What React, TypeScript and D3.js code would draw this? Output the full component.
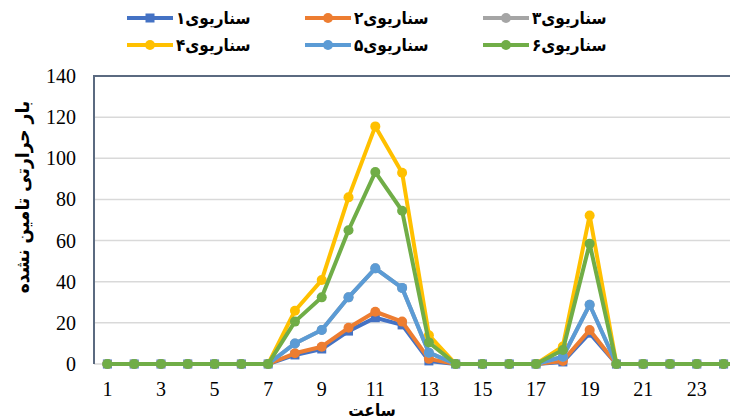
import { useEffect, useRef } from 'react';
import * as d3 from 'd3';

// hours (25th is off the cropped right edge)
const hours = d3.range(1, 26);
const tickHours = [1, 3, 5, 7, 9, 11, 13, 15, 17, 19, 21, 23];
const yTicks = [0, 20, 40, 60, 80, 100, 120, 140];

const names = ['سناریوی۱', 'سناریوی۲', 'سناریوی۳', 'سناریوی۴', 'سناریوی۵', 'سناریوی۶'];
const colors = ['#4472C4', '#ED7D31', '#A5A5A5', '#FFC000', '#5B9BD5', '#70AD47'];

const s1 = [0, 0, 0, 0, 0, 0, 0, 4.4, 7.3, 16, 22.5, 19, 1.5, 0, 0, 0, 0, 1, 15, 0, 0, 0, 0, 0, 0];
const s2 = [0, 0, 0, 0, 0, 0, 0, 5.2, 8.4, 17.6, 25.4, 20.6, 2.5, 0, 0, 0, 0, 1.5, 16.5, 0, 0, 0, 0, 0, 0];
const s3 = [0, 0, 0, 0, 0, 0, 0, 10, 16.5, 32.4, 46.5, 37, 5.5, 0, 0, 0, 0, 3.5, 28.8, 0, 0, 0, 0, 0, 0];
const s4 = [0, 0, 0, 0, 0, 0, 0, 25.9, 40.8, 81, 115.5, 93, 14, 0, 0, 0, 0, 8.5, 72.2, 0, 0, 0, 0, 0, 0];
const s5 = [0, 0, 0, 0, 0, 0, 0, 10, 16.5, 32.4, 46.5, 37, 5.5, 0, 0, 0, 0, 3.5, 28.8, 0, 0, 0, 0, 0, 0];
const s6 = [0, 0, 0, 0, 0, 0, 0, 20.6, 32.4, 65, 93.3, 74.5, 10.5, 0, 0, 0, 0, 6.8, 58.5, 0, 0, 0, 0, 0, 0];
const series = [s1, s2, s3, s4, s5, s6];

const serif = '"Liberation Serif", "DejaVu Serif", serif';
const persian = '"DejaVu Sans Condensed", "DejaVu Sans", sans-serif';

export default function App() {
  const svgRef = useRef<SVGSVGElement>(null);

  useEffect(() => {
    if (!svgRef.current) return;
    const svg = d3.select(svgRef.current);
    svg.selectAll('*').remove();

    const width = 730;
    const height = 419;
    svg.attr('width', width).attr('height', height);

    const left = 94;
    const top = 76;
    const bottom = 364;

    const x = d3.scaleLinear().domain([0.5, 24.5]).range([left, 737]);
    const y = d3.scaleLinear().domain([0, 140]).range([bottom, top]);

    const g = svg.append('g');

    // gridlines
    g.selectAll('line.grid')
      .data(yTicks.filter(d => d < 140))
      .join('line')
      .attr('class', 'grid')
      .attr('x1', left)
      .attr('x2', 737)
      .attr('y1', d => y(d))
      .attr('y2', d => y(d))
      .attr('stroke', '#d9d9d9')
      .attr('stroke-width', 1.5);

    // frame (left + top)
    g.append('path')
      .attr('d', `M${left},${bottom} V${top} H737`)
      .attr('fill', 'none')
      .attr('stroke', '#5b6a80')
      .attr('stroke-width', 2);

    // y tick labels
    g.selectAll('text.ytick')
      .data(yTicks)
      .join('text')
      .attr('class', 'ytick')
      .attr('x', 76)
      .attr('y', d => y(d))
      .attr('dy', '0.35em')
      .attr('text-anchor', 'end')
      .attr('font-family', serif)
      .attr('font-size', 20)
      .attr('fill', '#000')
      .text(d => d);

    // x tick labels
    g.selectAll('text.xtick')
      .data(tickHours)
      .join('text')
      .attr('class', 'xtick')
      .attr('x', d => x(d))
      .attr('y', 396)
      .attr('text-anchor', 'middle')
      .attr('font-family', serif)
      .attr('font-size', 20)
      .attr('fill', '#000')
      .text(d => d);

    // series
    const line = d3.line<number>()
      .x((d, i) => x(hours[i]))
      .y(d => y(d));

    series.forEach((vals, si) => {
      const sg = g.append('g');
      sg.append('path')
        .datum(vals)
        .attr('fill', 'none')
        .attr('stroke', colors[si])
        .attr('stroke-width', 4)
        .attr('stroke-linejoin', 'round')
        .attr('d', line);
      if (si === 0) {
        sg.selectAll('rect')
          .data(vals)
          .join('rect')
          .attr('x', (d, i) => x(hours[i]) - 4.5)
          .attr('y', d => y(d) - 4.5)
          .attr('width', 9)
          .attr('height', 9)
          .attr('fill', colors[si]);
      } else {
        sg.selectAll('circle')
          .data(vals)
          .join('circle')
          .attr('cx', (d, i) => x(hours[i]))
          .attr('cy', d => y(d))
          .attr('r', 5)
          .attr('fill', colors[si]);
      }
    });

    // legend
    const legendCols = [127, 305, 483];
    const legendRows = [18, 45];
    names.forEach((name, i) => {
      const lx = legendCols[i % 3];
      const ly = legendRows[Math.floor(i / 3)];
      const lg = svg.append('g');
      lg.append('line')
        .attr('x1', lx)
        .attr('x2', lx + 46)
        .attr('y1', ly)
        .attr('y2', ly)
        .attr('stroke', colors[i])
        .attr('stroke-width', 4);
      if (i === 0) {
        lg.append('rect')
          .attr('x', lx + 18.5)
          .attr('y', ly - 4.5)
          .attr('width', 9)
          .attr('height', 9)
          .attr('fill', colors[i]);
      } else {
        lg.append('circle')
          .attr('cx', lx + 23)
          .attr('cy', ly)
          .attr('r', 5)
          .attr('fill', colors[i]);
      }
      lg.append('text')
        .attr('x', lx + 49)
        .attr('y', ly)
        .attr('dy', '0.35em')
        .attr('text-anchor', 'start')
        .attr('font-family', persian)
        .attr('font-weight', 'bold')
        .attr('font-size', 17)
        .attr('fill', '#000')
        .text(name);
    });

    // axis titles
    svg.append('text')
      .attr('transform', `translate(22,197) rotate(-90)`)
      .attr('text-anchor', 'middle')
      .attr('dy', '0.35em')
      .attr('font-family', persian)
      .attr('font-weight', 'bold')
      .attr('font-size', 19)
      .attr('fill', '#000')
      .text('بار حرارتی تامین نشده');

    svg.append('text')
      .attr('x', 372)
      .attr('y', 416)
      .attr('text-anchor', 'middle')
      .attr('font-family', persian)
      .attr('font-weight', 'bold')
      .attr('font-size', 17)
      .attr('fill', '#000')
      .text('ساعت');
  }, []);

  return (
    <div style={{ position: 'absolute', left: 0, top: 0, width: 730, height: 419, background: '#fff', overflow: 'hidden' }}>
      <svg ref={svgRef} style={{ display: 'block' }}></svg>
    </div>
  );
}
